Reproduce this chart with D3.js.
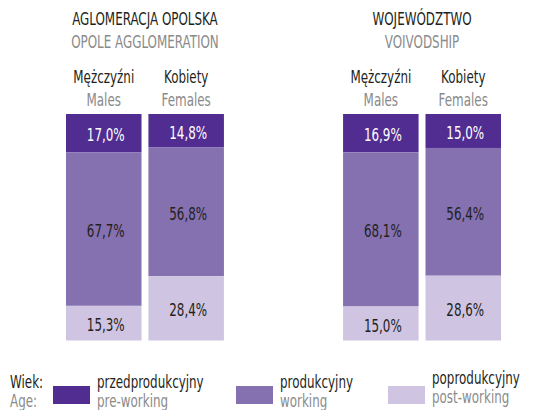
<!DOCTYPE html>
<html><head><meta charset="utf-8">
<script src="https://cdn.jsdelivr.net/npm/d3@7"></script>
<style>
body{margin:0;background:#fff;}
svg{display:block;font-family:"Liberation Sans Narrow","DejaVu Sans Condensed",sans-serif;}
</style></head>
<body><svg id="c" width="541" height="410"></svg>
<script>
const groupsPL = ["AGLOMERACJA OPOLSKA", "WOJEWÓDZTWO"];
const groupsEN = ["OPOLE AGGLOMERATION", "VOIVODSHIP"];
const sexPL = ["Mężczyźni", "Kobiety"];
const sexEN = ["Males", "Females"];
const preWorking = [17.0, 14.8, 16.9, 15.0];
const working = [67.7, 56.8, 68.1, 56.4];
const postWorking = [15.3, 28.4, 15.0, 28.6];
const legendPL = ["przedprodukcyjny", "produkcyjny", "poprodukcyjny"];
const legendEN = ["pre-working", "working", "post-working"];
const colors = ["#512d91", "#8570b0", "#cfc5e2"];
const labelColors = ["#ffffff", "#231f20", "#231f20"];

const svg = d3.select("#c");
const dark = "#231f20", gray = "#8a8a8a";
const SX = 0.78;
const FS = 17;
const fmt = v => v.toFixed(1).replace(".", ",") + "%";

function txt(parent, x, y, t, fill, anchor) {
  return parent.append("text")
    .attr("transform", `translate(${x},${y}) scale(${SX},1)`)
    .attr("text-anchor", anchor || "start")
    .attr("font-size", FS).attr("fill", fill).text(t);
}

const gx = d3.scaleBand().domain(d3.range(groupsPL.length)).range([66, 501]).paddingInner(0.43);
const sx = d3.scaleBand().domain(d3.range(sexPL.length)).range([0, gx.bandwidth()]).paddingInner(0.084);
const y = d3.scaleLinear().domain([0, 100]).range([114, 340.5]);

const series = [preWorking, working, postWorking];
const rows = [];
groupsPL.forEach((g, gi) => sexPL.forEach((s, si) => {
  const idx = gi * sexPL.length + si;
  let acc = 0;
  series.forEach((arr, k) => {
    rows.push({gi, si, k, v: arr[idx], y0: acc, y1: acc + arr[idx]});
    acc += arr[idx];
  });
}));

groupsPL.forEach((title, gi) => {
  const g = svg.append("g").attr("transform", `translate(${gx(gi)},0)`);
  const mid = gx.bandwidth() / 2;
  txt(g, mid, 25, title, dark, "middle");
  txt(g, mid, 48, groupsEN[gi], gray, "middle");
  sexPL.forEach((s, si) => {
    const cx = sx(si) + sx.bandwidth() / 2;
    txt(g, cx, 83, s, dark, "middle");
    txt(g, cx, 106, sexEN[si], gray, "middle");
  });
  const rs = rows.filter(r => r.gi === gi);
  g.selectAll("rect").data(rs).join("rect")
    .attr("x", r => sx(r.si)).attr("width", sx.bandwidth())
    .attr("y", r => y(r.y0)).attr("height", r => y(r.y1) - y(r.y0))
    .attr("fill", r => colors[r.k]);
  rs.forEach(r => {
    txt(g, sx(r.si) + sx.bandwidth() / 2 + 2, (y(r.y0) + y(r.y1)) / 2 + 8, fmt(r.v), labelColors[r.k], "middle");
  });
});

// legend
txt(svg, 10, 388, "Wiek:", dark);
txt(svg, 10, 407, "Age:", gray);
const lx = [53, 236, 388];
const lyOff = [0, 0, -4];
legendPL.forEach((t, i) => {
  svg.append("rect").attr("x", lx[i]).attr("y", 386).attr("width", 37).attr("height", 18).attr("fill", colors[i]);
  txt(svg, lx[i] + 44, 388 + lyOff[i], t, dark);
  txt(svg, lx[i] + 44, 407 + lyOff[i], legendEN[i], gray);
});
</script></body></html>
